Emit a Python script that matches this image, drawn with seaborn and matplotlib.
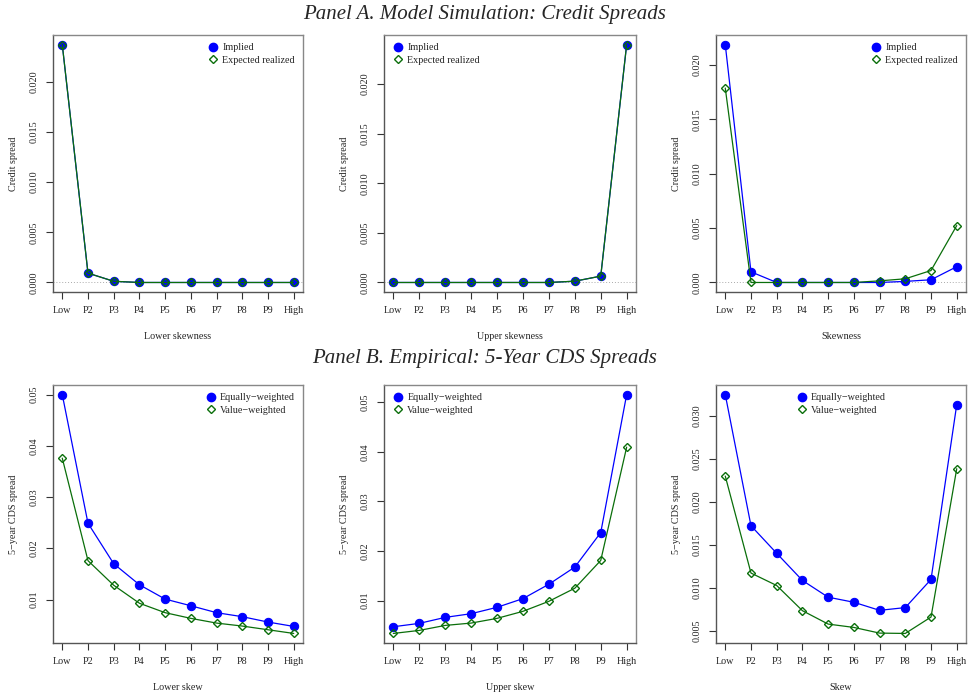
import numpy as np
import pandas as pd
import matplotlib
matplotlib.use("Agg")
import matplotlib.pyplot as plt
from matplotlib.lines import Line2D
import seaborn as sns

categories = ["Low", "P2", "P3", "P4", "P5", "P6", "P7", "P8", "P9", "High"]

# Panel A: model simulation, credit spreads
lower_implied = [0.0237, 0.00093, 0.00012, 0.0, 0.0, 0.0, 0.0, 0.0, 0.0, 0.0]
lower_expected = [0.0237, 0.00093, 0.00012, 0.0, 0.0, 0.0, 0.0, 0.0, 0.0, 0.0]
upper_implied = [0.0, 0.0, 0.0, 0.0, 0.0, 0.0, 0.0, 0.00013, 0.00064, 0.0240]
upper_expected = [0.0, 0.0, 0.0, 0.0, 0.0, 0.0, 0.0, 0.00013, 0.00064, 0.0240]
skew_implied = [0.02188, 0.00098, 0.0, 0.0, 0.0, 0.0, 0.0, 0.0001, 0.00025, 0.00145]
skew_expected = [0.01788, 0.0, 0.0, 0.0, 0.0, 0.0, 0.00015, 0.00034, 0.0011, 0.00523]

# Panel B: empirical 5-year CDS spreads
lskew_ew = [0.0500, 0.0249, 0.0170, 0.0129, 0.0101, 0.0088, 0.00745, 0.00667, 0.00562, 0.00477]
lskew_vw = [0.0376, 0.0176, 0.0128, 0.00929, 0.00745, 0.00634, 0.00542, 0.00484, 0.00412, 0.0034]
uskew_ew = [0.00473, 0.00541, 0.00662, 0.00736, 0.00865, 0.0104, 0.0133, 0.01676, 0.02372, 0.05155]
uskew_vw = [0.00338, 0.00399, 0.0050, 0.00547, 0.00642, 0.00784, 0.00986, 0.0125, 0.0181, 0.04095]
skew_ew = [0.0325, 0.01723, 0.01402, 0.01086, 0.00891, 0.00832, 0.00738, 0.0077, 0.01098, 0.03133]
skew_vw = [0.02301, 0.01172, 0.01027, 0.00734, 0.00578, 0.00539, 0.00473, 0.00469, 0.0066, 0.02387]

ticks_a = [0.0, 0.005, 0.010, 0.015, 0.020]
ticks_b = [0.01, 0.02, 0.03, 0.04, 0.05]
ticks_b3 = [0.005, 0.010, 0.015, 0.020, 0.025, 0.030]

BLUE = "#0000FF"
GREEN = "#0a6e0a"

sns.set_theme(style="ticks")
plt.rcParams["font.family"] = ["Liberation Serif", "DejaVu Serif"]

W, H = 970, 696
fig = plt.figure(figsize=(W / 100, H / 100), dpi=100)


def make_ax(left, right, top, bottom):
    return fig.add_axes([left / W, 1 - bottom / H, (right - left) / W, (bottom - top) / H])


def draw_panel(ax, s1, s2, labels, xlabel, ylabel, yticks, fmt, legend_loc, zero_line):
    df = pd.DataFrame({"pos": np.arange(len(categories)), "s1": s1, "s2": s2})
    sns.lineplot(data=df, x="pos", y="s1", ax=ax, color=BLUE, lw=0.9,
                 marker="o", markersize=6, markeredgecolor=BLUE, zorder=3)
    sns.lineplot(data=df, x="pos", y="s2", ax=ax, color=GREEN, lw=0.9,
                 marker="D", markersize=4.5, markerfacecolor="none",
                 markeredgecolor=GREEN, markeredgewidth=1.0, zorder=4)
    ax.margins(x=0.04, y=0.04)
    if zero_line:
        ax.axhline(0, color="#aaaaaa", lw=0.7, ls=(0, (1, 2)), zorder=1)
    ax.set_xticks(np.arange(len(categories)))
    ax.set_xticklabels(categories, fontsize=7.3)
    ax.set_yticks(yticks)
    ax.set_yticklabels([fmt.format(v) for v in yticks], fontsize=7.3, rotation=90, va="center")
    ax.tick_params(axis="both", direction="out", length=5, width=0.8, color="#333333", pad=5)
    ax.set_xlabel(xlabel, fontsize=7.3, labelpad=12)
    ax.set_ylabel(ylabel, fontsize=7.3, labelpad=9)
    for side, sp in ax.spines.items():
        sp.set_visible(True)
        sp.set_linewidth(1.0)
        sp.set_color("#555555" if side in ("left", "bottom") else "#888888")
    handles = [
        Line2D([], [], ls="none", marker="o", markersize=6, color=BLUE),
        Line2D([], [], ls="none", marker="D", markersize=4.5, markerfacecolor="none",
               markeredgecolor=GREEN, markeredgewidth=1.0),
    ]
    ax.legend(handles, labels, loc=legend_loc, frameon=False, fontsize=7.3,
              handletextpad=0.3, borderaxespad=0.4, labelspacing=0.35, handlelength=1.2)


lab_a = ["Implied", "Expected realized"]
lab_b = ["Equally\u2212weighted", "Value\u2212weighted"]

top_a, bot_a = 35, 292
top_b, bot_b = 385, 643
cols = [(53, 303), (384, 636), (716, 966)]

ax = make_ax(*cols[0], top_a, bot_a)
draw_panel(ax, lower_implied, lower_expected, lab_a, "Lower skewness", "Credit spread",
           ticks_a, "{:.3f}", "upper right", True)
ax = make_ax(*cols[1], top_a, bot_a)
draw_panel(ax, upper_implied, upper_expected, lab_a, "Upper skewness", "Credit spread",
           ticks_a, "{:.3f}", "upper left", True)
ax = make_ax(*cols[2], top_a, bot_a)
draw_panel(ax, skew_implied, skew_expected, lab_a, "Skewness", "Credit spread",
           ticks_a, "{:.3f}", "upper right", True)

ax = make_ax(*cols[0], top_b, bot_b)
draw_panel(ax, lskew_ew, lskew_vw, lab_b, "Lower skew", "5\u2212year CDS spread",
           ticks_b, "{:.2f}", "upper right", False)
ax = make_ax(*cols[1], top_b, bot_b)
draw_panel(ax, uskew_ew, uskew_vw, lab_b, "Upper skew", "5\u2212year CDS spread",
           ticks_b, "{:.2f}", "upper left", False)
ax = make_ax(*cols[2], top_b, bot_b)
draw_panel(ax, skew_ew, skew_vw, lab_b, "Skew", "5\u2212year CDS spread",
           ticks_b3, "{:.3f}", "upper center", False)

fig.text(485 / W, 1 - 14 / H, "Panel A. Model Simulation: Credit Spreads",
         ha="center", va="center", fontsize=15, style="italic")
fig.text(485 / W, 1 - 358 / H, "Panel B. Empirical: 5-Year CDS Spreads",
         ha="center", va="center", fontsize=15, style="italic")

fig.savefig("out.png", dpi=100)
